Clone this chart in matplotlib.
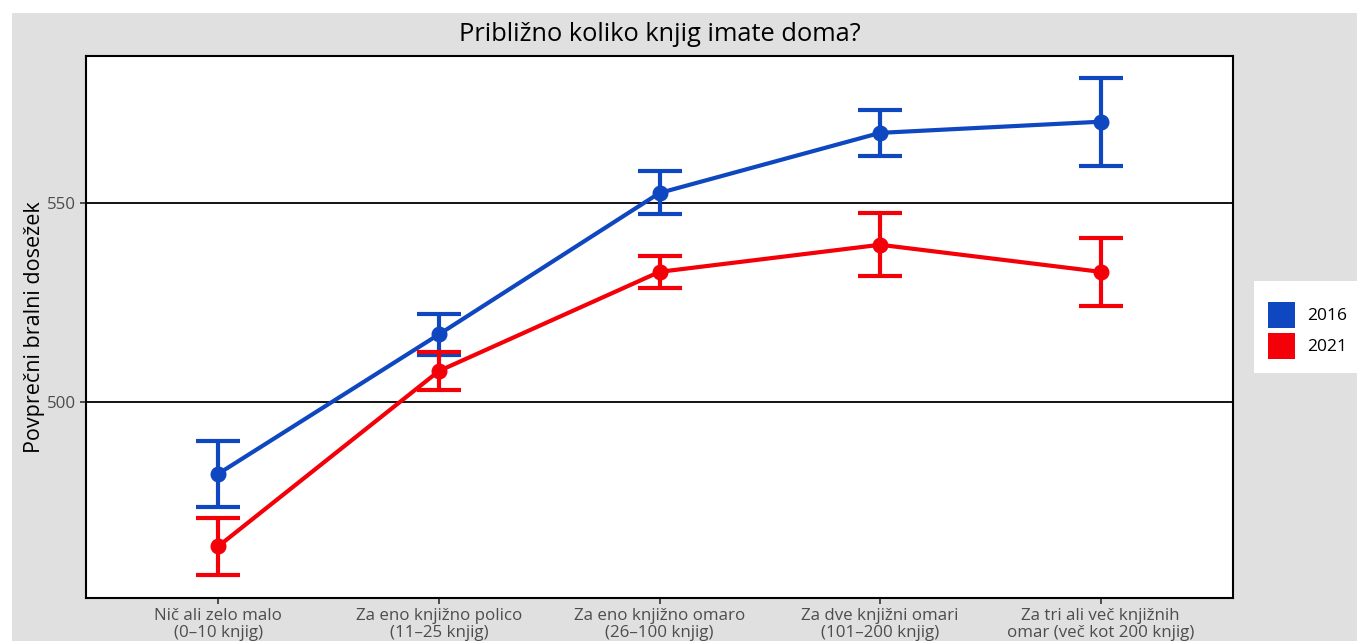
#!/usr/bin/env python3

import matplotlib
matplotlib.use("Agg")
import matplotlib.pyplot as plt
from matplotlib.patches import Patch, Rectangle

# Data
categories = ["Nič ali zelo malo\n(0–10 knjig)",
              "Za eno knjižno polico\n(11–25 knjig)",
              "Za eno knjižno omaro\n(26–100 knjig)",
              "Za dve knjižni omari\n(101–200 knjig)",
              "Za tri ali več knjižnih\nomar (več kot 200 knjig)"]
mean_2016 = [482.0, 517.0, 552.5, 567.6, 570.4]
err_2016 = [8.3, 5.2, 5.4, 5.8, 11.0]
mean_2021 = [463.8, 507.8, 532.7, 539.5, 532.7]
err_2021 = [7.2, 4.8, 4.0, 7.9, 8.6]
years = ["2016", "2021"]
colors = ["#0f47c0", "#f40008"]

plt.rcParams['font.family'] = ['Open Sans', 'DejaVu Sans']

W, H = 1357, 641
fig = plt.figure(figsize=(W / 100, H / 100), dpi=100, facecolor="white")
# grey plot background and white legend box
fig.patches.append(Rectangle((12 / W, 0), 1 - 12 / W, (H - 13) / H,
                             transform=fig.transFigure, facecolor="#e0e0e0",
                             edgecolor="none", zorder=-10))
fig.patches.append(Rectangle((1254 / W, (H - 373) / H), 1 - 1254 / W, 92 / H,
                             transform=fig.transFigure, facecolor="white",
                             edgecolor="none", zorder=-9))

ax = fig.add_axes([86 / W, (H - 598) / H, (1233 - 86) / W, (598 - 56) / H])
ax.set_facecolor("white")

x = list(range(1, len(categories) + 1))
for mean, err, c in zip([mean_2016, mean_2021], [err_2016, err_2021], colors):
    ax.plot(x, mean, color=c, lw=3, zorder=3)
    ax.errorbar(x, mean, yerr=err, fmt="o", color=c, ms=10.5, elinewidth=3,
                capsize=16, capthick=3, zorder=4)

ax.set_xlim(0.4, 5.6)
ax.set_ylim(450.8, 586.9)
ax.set_yticks([500, 550])
ax.set_xticks(x)
ax.set_xticklabels(categories, linespacing=1.1)
ax.grid(axis="y", color="black", lw=1.3)
ax.set_axisbelow(True)
for s in ax.spines.values():
    s.set_linewidth(1.5)
    s.set_color("black")
ax.tick_params(axis="both", colors="#333333", labelcolor="#4d4d4d",
               labelsize=12.2, length=4, width=1.2)
ax.tick_params(axis="x", pad=3)
ax.set_ylabel("Povprečni bralni dosežek", fontsize=15.5, labelpad=1)
ax.set_title("Približno koliko knjig imate doma?", fontsize=18.3, pad=11)

handles = [Patch(facecolor=c, edgecolor="none", label=y) for y, c in zip(years, colors)]
fig.legend(handles=handles, loc="upper left", bbox_to_anchor=(1268 / W, (H - 302) / H),
           frameon=False, fontsize=12.5, handlelength=1.55, handleheight=1.9,
           labelspacing=0.3, handletextpad=0.7, borderpad=0, borderaxespad=0)

fig.savefig("out.png", dpi=100, facecolor="white")
